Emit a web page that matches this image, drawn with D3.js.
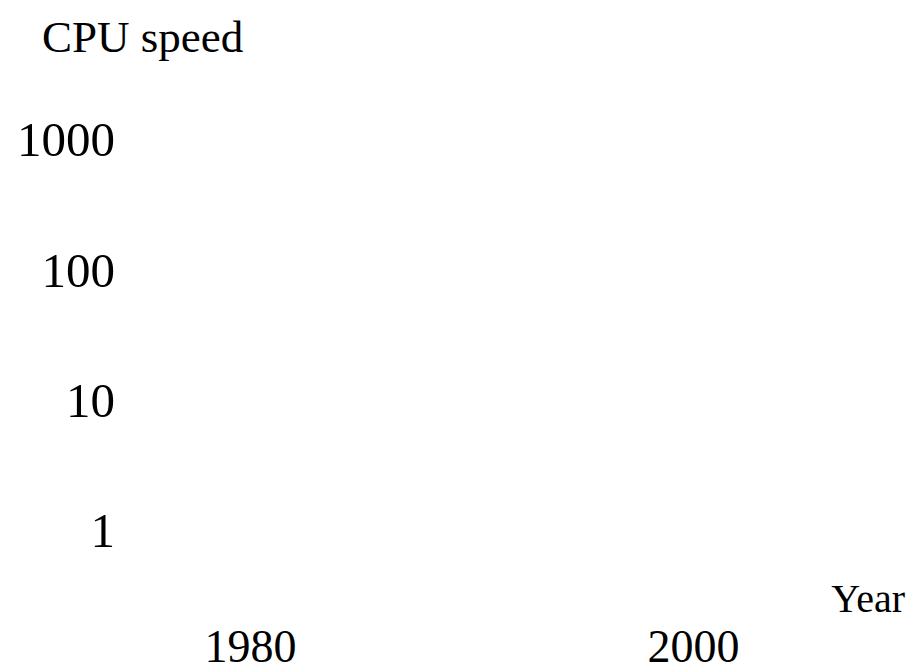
<!DOCTYPE html>
<html>
<head>
<meta charset="utf-8">
<script src="https://cdn.jsdelivr.net/npm/d3@7"></script>
<style>
  html, body { margin: 0; padding: 0; background: #fff; }
  svg { display: block; }
  text { font-family: "Liberation Serif", "DejaVu Serif", serif; fill: #000; }
</style>
</head>
<body>
<svg id="chart" width="917" height="672"></svg>
<script>
// Data
const yTicks = [1, 10, 100, 1000];
const xTicks = [1980, 2000];
const yLabel = "CPU speed";
const xLabel = "Year";

const svg = d3.select("#chart");

const x = d3.scaleLinear().domain([1980, 2000]).range([250, 693]);
const y = d3.scaleLog().domain([1, 1000]).range([531, 140]);

// Y axis
const yAxis = svg.append("g")
  .attr("transform", "translate(125,0)")
  .call(d3.axisLeft(y).tickValues(yTicks).tickFormat(d3.format("d")).tickSize(0).tickPadding(10));
yAxis.select(".domain").remove();
yAxis.selectAll("text")
  .style("font-family", "'Liberation Serif', serif")
  .style("font-size", "49px")
  .attr("fill", "#000");

// X axis
const xAxis = svg.append("g")
  .attr("transform", "translate(0,620)")
  .call(d3.axisBottom(x).tickValues(xTicks).tickFormat(d3.format("d")).tickSize(0).tickPadding(0));
xAxis.select(".domain").remove();
xAxis.selectAll("text")
  .attr("dy", null)
  .attr("y", 42)
  .style("font-family", "'Liberation Serif', serif")
  .style("font-size", "46px")
  .attr("fill", "#000");

// Axis titles
svg.append("text")
  .attr("x", 42).attr("y", 52)
  .attr("text-anchor", "start")
  .style("font-size", "45px")
  .text(yLabel);

svg.append("text")
  .attr("x", 905).attr("y", 612)
  .attr("text-anchor", "end")
  .style("font-size", "40px")
  .text(xLabel);
</script>
</body>
</html>
